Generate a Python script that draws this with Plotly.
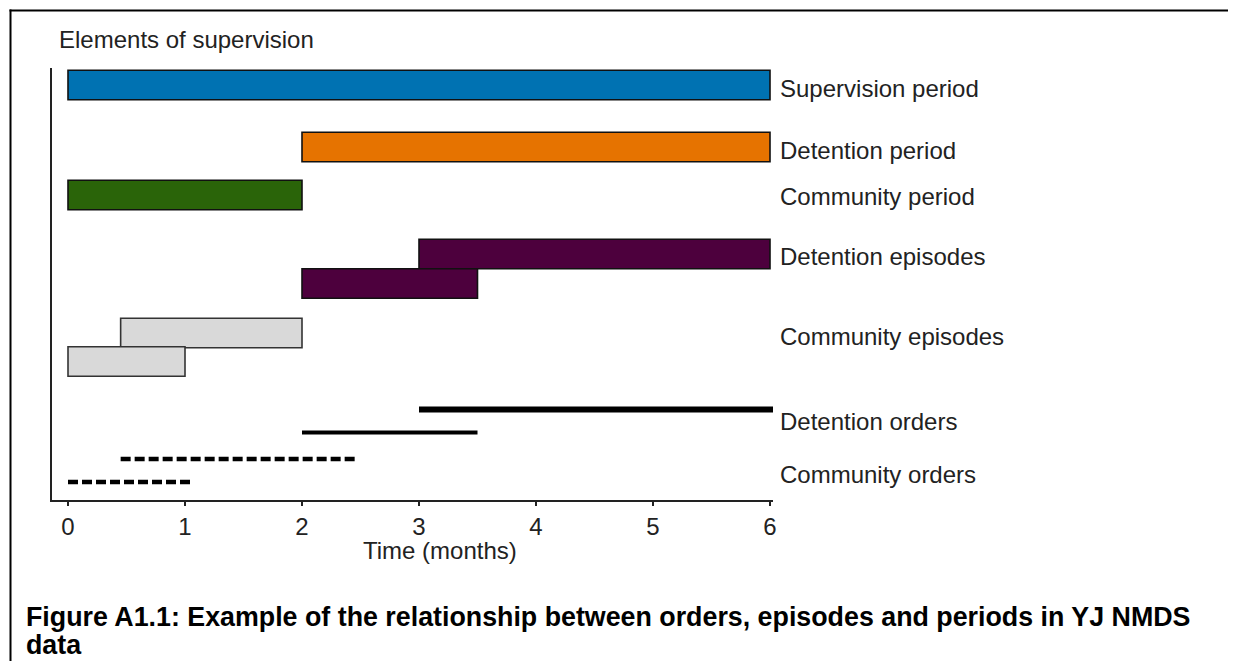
import plotly.graph_objects as go

# ---------------- data ----------------
row_labels = ["Supervision period", "Detention period", "Community period",
              "Detention episodes", "Community episodes",
              "Detention orders", "Community orders"]

bar_names = ["Supervision period", "Detention period", "Community period",
             "Detention episode (later)", "Detention episode (earlier)",
             "Community episode (later)", "Community episode (earlier)"]
bar_start = [0, 2, 0, 3, 2, 0.45, 0]
bar_end = [6, 6, 2, 6, 3.5, 2, 1]
bar_kind = ["supervision", "detention", "community",
            "det_episode", "det_episode", "com_episode", "com_episode"]

order_names = ["Detention order (later)", "Detention order (earlier)",
               "Community order (later)", "Community order (earlier)"]
order_start = [3, 2, 0.45, 0]
order_end = [6.06, 3.5, 2.45, 1.05]
order_kind = ["detention", "detention", "community", "community"]

x_ticks = [0, 1, 2, 3, 4, 5, 6]

# ---------------- layout / styling ----------------
OFF = 8                     # default page margin of the html body
W, H = 1236 - OFF, 661 - OFF
ML, MT = 52 - OFF, 68 - OFF
PW, PH = 721, 432
MR, MB = W - ML - PW, H - MT - PH

# vertical slots (distance from the top of the plot area, in px)
bar_slot = [17, 79, 127, 186, 215.5, 265, 293.5]
order_slot = [341.5, 364.5, 391, 414]
label_slot = [20, 82, 128, 188, 268, 353, 406]
BAR_H = 29.5

fill = {"supervision": "#0072B2", "detention": "#E67300", "community": "#2A6409",
        "det_episode": "#4D003D", "com_episode": "#D9D9D9"}
edge = {"supervision": "#111111", "detention": "#111111", "community": "#111111",
        "det_episode": "#111111", "com_episode": "#333333"}
order_width = [6, 4, 4.5, 4.5]
order_dash = {"detention": "solid", "community": "10px,4px"}

FONT = "Liberation Sans, Arial, sans-serif"
TXT = "#222222"

fig = go.Figure()

for name, s, e, k, yv in zip(bar_names, bar_start, bar_end, bar_kind, bar_slot):
    fig.add_trace(go.Bar(
        orientation="h", name=name, y=[yv], x=[e - s], base=[s], width=BAR_H,
        marker=dict(color=fill[k], line=dict(color=edge[k], width=1.6)),
        hovertemplate=name + ": %{base} to %{x}<extra></extra>",
        showlegend=False))

for name, s, e, k, yv, w in zip(order_names, order_start, order_end, order_kind,
                                order_slot, order_width):
    fig.add_trace(go.Scatter(
        x=[s, e], y=[yv, yv], mode="lines", name=name,
        line=dict(color="black", width=w, dash=order_dash[k]),
        showlegend=False, hoverinfo="name"))

def px_x(px):
    return (px - OFF - ML) / PW

def px_y(py):
    return (MT + PH - (py - OFF)) / PH

ann = []
for lab, yv in zip(row_labels, label_slot):
    ann.append(dict(text=lab, xref="paper", yref="y", x=px_x(778), y=yv,
                    xanchor="left", yanchor="middle", showarrow=False,
                    font=dict(family=FONT, size=24, color=TXT)))

ann.append(dict(text="Elements of supervision", xref="paper", yref="paper",
                x=px_x(57), y=px_y(40), xanchor="left", yanchor="middle",
                showarrow=False, font=dict(family=FONT, size=24, color=TXT)))
ann.append(dict(text="Time (months)", xref="paper", yref="paper",
                x=px_x(440), y=px_y(550), xanchor="center", yanchor="middle",
                showarrow=False, font=dict(family=FONT, size=24, color=TXT)))
ann.append(dict(text="<b>Figure A1.1: Example of the relationship between orders, episodes and periods in YJ NMDS</b>",
                xref="paper", yref="paper", x=px_x(24), y=px_y(617),
                xanchor="left", yanchor="middle", showarrow=False,
                font=dict(family=FONT, size=26.8, color="black")))
ann.append(dict(text="<b>data</b>", xref="paper", yref="paper", x=px_x(24), y=px_y(645),
                xanchor="left", yanchor="middle", showarrow=False,
                font=dict(family=FONT, size=26.8, color="black")))

shapes = [
    dict(type="line", xref="paper", yref="paper", x0=px_x(9.5), x1=px_x(1250),
         y0=px_y(10.5), y1=px_y(10.5), line=dict(color="black", width=2)),
    dict(type="line", xref="paper", yref="paper", x0=px_x(10.5), x1=px_x(10.5),
         y0=px_y(9.5), y1=px_y(680), line=dict(color="black", width=2)),
]

fig.update_layout(
    width=W, height=H, margin=dict(l=ML, r=MR, t=MT, b=MB),
    paper_bgcolor="white", plot_bgcolor="white", barmode="overlay",
    annotations=ann, shapes=shapes,
    xaxis=dict(range=[-16 / 117.0, 705 / 117.0], tickvals=x_ticks,
               ticktext=[str(t) for t in x_ticks], ticks="outside", ticklen=4,
               tickwidth=1.5, tickcolor="#222", showline=True, linecolor="#222",
               linewidth=1.6, showgrid=False, zeroline=False,
               tickfont=dict(family=FONT, size=24, color=TXT), ticklabelstandoff=0),
    yaxis=dict(range=[PH, 0], showline=True, linecolor="#222", linewidth=1.6,
               showticklabels=False, ticks="", showgrid=False, zeroline=False),
)

fig.write_html("out.html")
